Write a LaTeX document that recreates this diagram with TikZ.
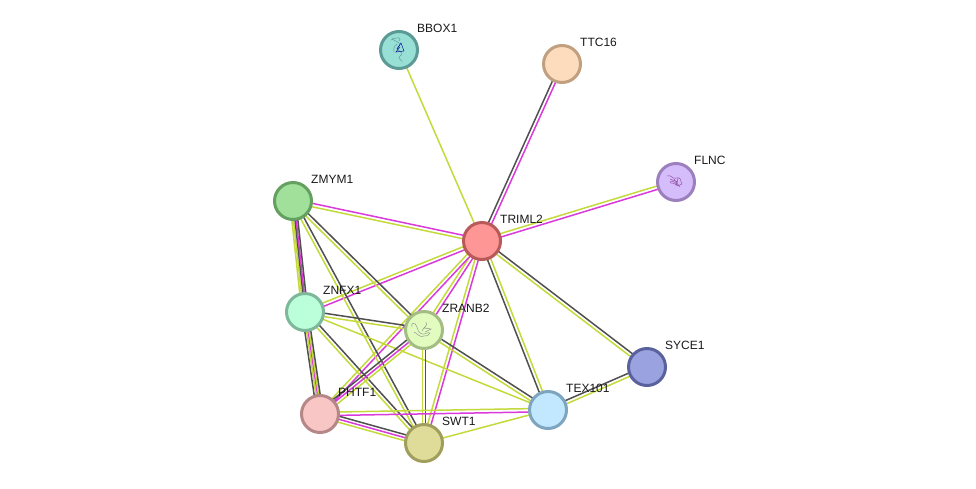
\documentclass[tikz,border=0pt]{standalone}
\usepackage{fontspec}
\setmainfont{Liberation Sans}
\usetikzlibrary{calc,backgrounds}
\definecolor{lm}{HTML}{C4D93A}
\definecolor{mg}{HTML}{D93AD9}
\definecolor{dk}{HTML}{505050}
\definecolor{fBBOX}{HTML}{98DFD5}\definecolor{bBBOX}{HTML}{5B9A95}
\definecolor{fTTC}{HTML}{FDDCBE}\definecolor{bTTC}{HTML}{C0A080}
\definecolor{fFLNC}{HTML}{D5BCFA}\definecolor{bFLNC}{HTML}{9C80BD}
\definecolor{fZMYM}{HTML}{A0E09A}\definecolor{bZMYM}{HTML}{64A05F}
\definecolor{fTRIM}{HTML}{FF9696}\definecolor{bTRIM}{HTML}{B85A5A}
\definecolor{fZNFX}{HTML}{BAFFD9}\definecolor{bZNFX}{HTML}{7DB89A}
\definecolor{fZRAN}{HTML}{E2FCC0}\definecolor{bZRAN}{HTML}{A3BD85}
\definecolor{fPHTF}{HTML}{F9C6C6}\definecolor{bPHTF}{HTML}{B58787}
\definecolor{fSWT}{HTML}{DFDC99}\definecolor{bSWT}{HTML}{A09E5C}
\definecolor{fTEX}{HTML}{C2E8FF}\definecolor{bTEX}{HTML}{7EA5BF}
\definecolor{fSYCE}{HTML}{9AA2E0}\definecolor{bSYCE}{HTML}{5A629E}
\tikzset{
  prot/.style={circle,draw=b#1,fill=f#1,line width=3pt,minimum size=37pt,inner sep=0pt},
  lab/.style={font=\fontsize{12pt}{13pt}\selectfont,text=black!90,anchor=base west,inner sep=0pt},
  edgeline/.style={line width=1.5pt},
  fold/.style={line width=.45pt,line cap=round}
}
\newcommand{\lnk}[3]{\foreach \o/\c in {#3}{\draw[edgeline,draw=\c] ($(#1)!\o pt!90:(#2)$) -- ($(#2)!\o pt!-90:(#1)$);}}
\begin{document}
\begin{tikzpicture}[x=1pt,y=-1pt]
\useasboundingbox (0,0) rectangle (976,488);
\node[prot=BBOX] (bbox) at (399,50) {};
\node[prot=TTC] (ttc) at (562,64) {};
\node[prot=FLNC] (flnc) at (676,182) {};
\node[prot=ZMYM] (zmym) at (293,201) {};
\node[prot=TRIM] (trim) at (482,241) {};
\node[prot=ZNFX] (znfx) at (305,312) {};
\node[prot=ZRAN] (zran) at (424,330) {};
\node[prot=PHTF] (phtf) at (320,414) {};
\node[prot=SWT] (swt) at (424,443) {};
\node[prot=TEX] (tex) at (548,410) {};
\node[prot=SYCE] (syce) at (647,367) {};
\begin{scope}[on background layer]
\lnk{bbox}{trim}{0/lm}
\lnk{trim}{ttc}{1.7/dk,-1.7/mg}
\lnk{trim}{flnc}{1.7/lm,-1.7/mg}
\lnk{zmym}{trim}{1.7/mg,-1.7/lm}
\lnk{znfx}{trim}{1.7/lm,-1.7/mg}
\lnk{zran}{trim}{1.7/lm,-1.7/mg}
\lnk{phtf}{trim}{1.7/lm,-1.7/mg}
\lnk{swt}{trim}{1.7/lm,-1.7/mg}
\lnk{trim}{tex}{1.7/lm,-1.7/dk}
\lnk{trim}{syce}{1.7/dk,-1.7/lm}
\lnk{tex}{syce}{1.7/dk,-1.7/lm}
\lnk{zmym}{znfx}{-3.2/lm,-1.6/lm,0/dk,1.2/mg,2.8/dk}
\lnk{znfx}{phtf}{-3/dk,-1.2/lm,.4/mg,1.4/lm,3/dk}
\lnk{zmym}{zran}{1.7/dk,-1.7/lm}
\lnk{zmym}{swt}{1.7/dk,-1.7/lm}
\lnk{znfx}{zran}{1.7/dk,-1.7/lm}
\lnk{znfx}{swt}{1.7/dk,-1.7/lm}
\lnk{znfx}{tex}{0/lm}
\lnk{zran}{swt}{1.7/dk,-1.7/lm}
\lnk{zran}{tex}{1.7/dk,-1.7/lm}
\lnk{phtf}{zran}{3/dk,0/mg,-3/lm}
\lnk{phtf}{swt}{3/dk,0/mg,-3/lm}
\lnk{phtf}{tex}{1.7/lm,-1.7/mg}
\lnk{swt}{tex}{0/lm}
\end{scope}
% protein structure glyphs
\draw[fold,draw=bBBOX] (393,38) .. controls (390,41) and (405,42) .. (398,47) .. controls (393,51) and (407,51) .. (400,56) .. controls (396,59) and (404,60) .. (402,63);
\draw[fold,draw=blue!60!black] (397,49) -- (401,43) -- (404,51) -- (396,52) -- (400,47);
\draw[fold,draw=bBBOX] (391,40) .. controls (398,36) and (402,38) .. (399,41) (394,52) .. controls (393,47) and (395,45) .. (397,44);
\draw[fold,draw=bFLNC!60!violet] (667,176) .. controls (672,174) and (672,180) .. (676,178) .. controls (682,176) and (680,182) .. (682,184) .. controls (678,188) and (674,182) .. (671,183) .. controls (668,181) and (674,179) .. (678,186);
\draw[fold,draw=bFLNC!60!violet] (674,179) -- (680,187) (678,178) -- (676,186) (670,179) -- (678,182);
\draw[fold,draw=black!45] (412,327) .. controls (410,322) and (416,322) .. (417,327) .. controls (418,333) and (422,336) .. (427,333) .. controls (431,331) and (431,336) .. (424,336) .. controls (420,338) and (418,334) .. (414,332);
\draw[fold,draw=black!45] (422,331) .. controls (424,326) and (428,327) .. (426,322) (424,328) -- (431,329) -- (425,332);
\node[lab] (lbbox) at (417,32) {BBOX1};
\node[lab] (lttc) at (580,46) {TTC16};
\node[lab] (lflnc) at (694,164) {FLNC};
\node[lab] (lzmym) at (311,183) {ZMYM1};
\node[lab] (ltrim) at (500,223) {TRIML2};
\node[lab] (lznfx) at (323,294) {ZNFX1};
\node[lab] (lzran) at (442,312) {ZRANB2};
\node[lab] (lphtf) at (338,396) {PHTF1};
\node[lab] (lswt) at (442,425) {SWT1};
\node[lab] (ltex) at (566,392) {TEX101};
\node[lab] (lsyce) at (665,349) {SYCE1};
\end{tikzpicture}
\end{document}
